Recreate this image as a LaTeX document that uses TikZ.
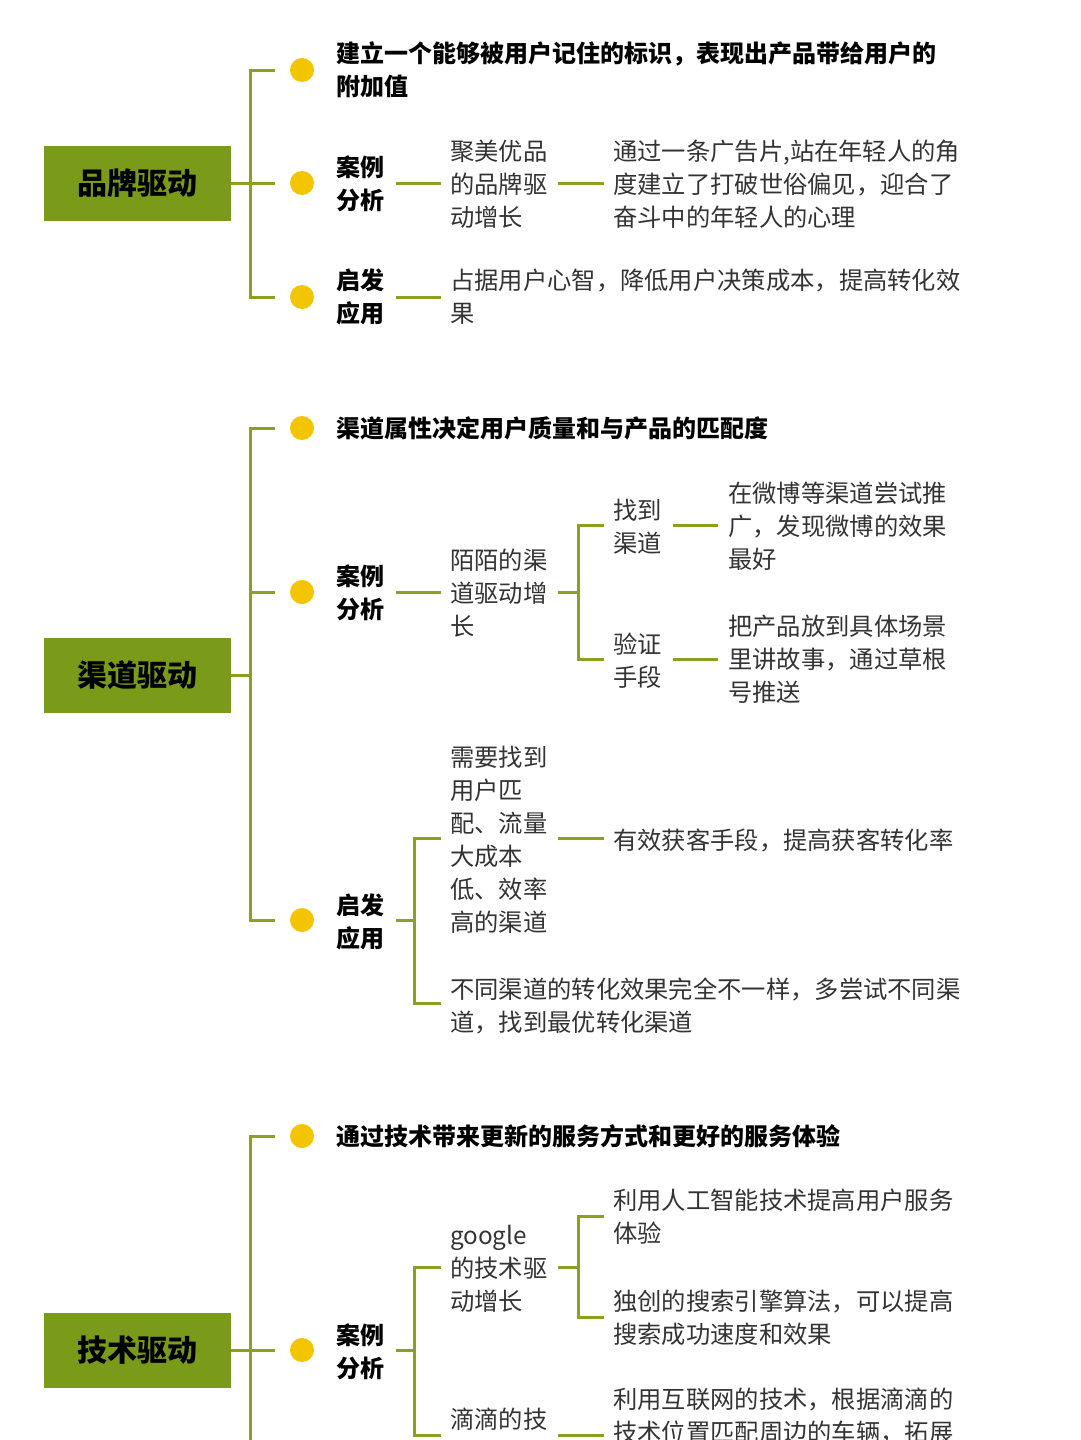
\documentclass[tikz,border=0pt]{standalone}
\usepackage{fontspec}
\setmainfont{Noto Sans CJK SC}
\definecolor{gbox}{HTML}{7A9A1A}
\definecolor{gline}{HTML}{8AA01E}
\definecolor{dotc}{HTML}{F2C500}
\definecolor{txt}{HTML}{333333}
\begin{document}
\begin{tikzpicture}[x=1pt,y=-1pt,
  mainbox/.style={fill=gbox,minimum width=187pt,minimum height=75pt,inner sep=0pt,font=\fontsize{30}{33}\selectfont\bfseries,text=black},
  tx/.style={anchor=west,inner sep=0pt,align=left,text=txt,font=\fontsize{24.3}{33}\selectfont},
  bt/.style={tx,text=black,font=\fontsize{24}{33}\selectfont\bfseries},
  ln/.style={gline,line width=3pt},
  dot/.style={circle,fill=dotc,minimum size=24pt,inner sep=0pt}]
\useasboundingbox (0,0) rectangle (1080,1440);
\clip (0,0) rectangle (1080,1440);
% ---------- section 1
\node[mainbox] (b1) at (137,183) {品牌驱动};
\draw[ln] (b1.east) -- (250,183);
\draw[ln] (275,70) -| (250,297) -- (275,297);
\draw[ln] (250,183) -- (275,183);
\node[dot] (d11) at (302,70) {};
\node[dot] (d12) at (302,183) {};
\node[dot] (d13) at (302,297) {};
\node[bt] (t11) at (336,70) {建立一个能够被用户记住的标识，表现出产品带给用户的\\附加值};
\node[bt] (t12) at (336,184) {案例\\分析};
\node[tx] (t121) at (450,184) {聚美优品\\的品牌驱\\动增长};
\node[tx] (t122) at (613,184) {通过一条广告片,站在年轻人的角\\度建立了打破世俗偏见，迎合了\\奋斗中的年轻人的心理};
\draw[ln] (396,183) -- (441,183);
\draw[ln] (558,183) -- (604,183);
\node[bt] (t13) at (336,297) {启发\\应用};
\node[tx] (t131) at (450,297) {占据用户心智，降低用户决策成本，提高转化效\\果};
\draw[ln] (396,297) -- (441,297);
% ---------- section 2
\node[mainbox] (b2) at (137,675) {渠道驱动};
\draw[ln] (b2.east) -- (250,675);
\draw[ln] (275,428) -| (250,920) -- (275,920);
\draw[ln] (250,592) -- (275,592);
\node[dot] (d21) at (302,428) {};
\node[dot] (d22) at (302,592) {};
\node[dot] (d23) at (302,920) {};
\node[bt] (t21) at (336,428) {渠道属性决定用户质量和与产品的匹配度};
\node[bt] (t22) at (336,593) {案例\\分析};
\draw[ln] (396,592) -- (441,592);
\node[tx] (t221) at (450,593) {陌陌的渠\\道驱动增\\长};
\draw[ln] (558,592) -- (578,592);
\draw[ln] (604,525) -| (578,659) -- (604,659);
\node[tx] (t222) at (613,527) {找到\\渠道};
\draw[ln] (673,525) -- (718,525);
\node[tx] (t2221) at (728,526) {在微博等渠道尝试推\\广，发现微博的效果\\最好};
\node[tx] (t223) at (613,661) {验证\\手段};
\draw[ln] (673,659) -- (718,659);
\node[tx] (t2231) at (728,659) {把产品放到具体场景\\里讲故事，通过草根\\号推送};
\node[bt] (t23) at (336,922) {启发\\应用};
\draw[ln] (396,920) -- (414,920);
\draw[ln] (441,838) -| (414,1003) -- (441,1003);
\node[tx] (t231) at (450,840) {需要找到\\用户匹\\配、流量\\大成本\\低、效率\\高的渠道};
\draw[ln] (558,838) -- (604,838);
\node[tx] (t2311) at (613,840) {有效获客手段，提高获客转化率};
\node[tx] (t232) at (450,1006) {不同渠道的转化效果完全不一样，多尝试不同渠\\道，找到最优转化渠道};
% ---------- section 3
\node[mainbox] (b3) at (137,1350) {技术驱动};
\draw[ln] (b3.east) -- (250,1350);
\draw[ln] (275,1136) -| (250,1450);
\draw[ln] (250,1350) -- (275,1350);
\node[dot] (d31) at (302,1136) {};
\node[dot] (d32) at (302,1350) {};
\node[bt] (t31) at (336,1136) {通过技术带来更新的服务方式和更好的服务体验};
\node[bt] (t32) at (336,1352) {案例\\分析};
\draw[ln] (396,1350) -- (414,1350);
\draw[ln] (441,1267) -| (414,1435) -- (441,1435);
\node[tx] (t321) at (450,1269) {google\\的技术驱\\动增长};
\draw[ln] (558,1267) -- (578,1267);
\draw[ln] (604,1216) -| (578,1317) -- (604,1317);
\node[tx] (t3211) at (613,1217) {利用人工智能技术提高用户服务\\体验};
\node[tx] (t3212) at (613,1318) {独创的搜索引擎算法，可以提高\\搜索成功速度和效果};
\node[tx] (t322) at (450,1419) {滴滴的技};
\draw[ln] (558,1435) -- (604,1435);
\node[tx,anchor=north west] (t3221) at (613,1388) {利用互联网的技术，根据滴滴的\\技术位置匹配周边的车辆，拓展};
\end{tikzpicture}
\end{document}
